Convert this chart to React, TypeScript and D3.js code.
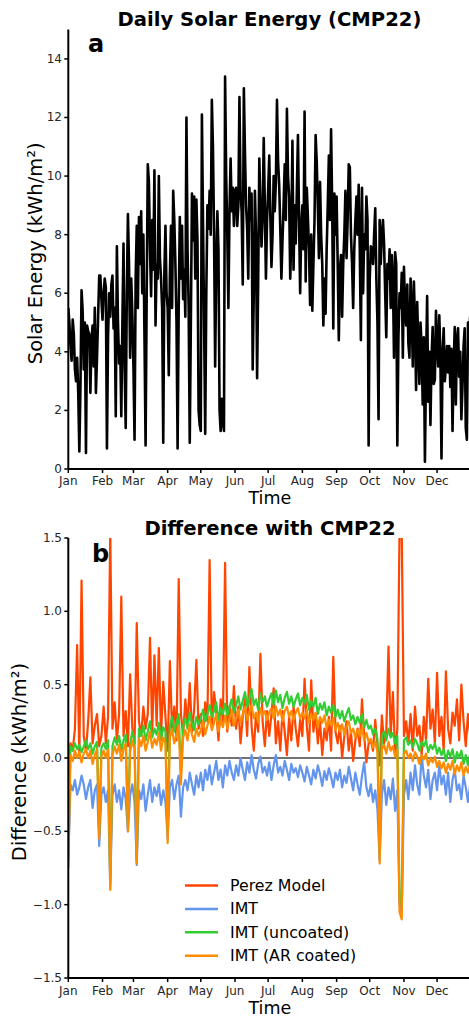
import React from 'react';
import * as d3 from 'd3';

// tick labels
const monthLabels = ['Jan', 'Feb', 'Mar', 'Apr', 'May', 'Jun', 'Jul', 'Aug', 'Sep', 'Oct', 'Nov', 'Dec'];
const energyTicks = [0, 2, 4, 6, 8, 10, 12, 14];
const diffTicks = [-1.5, -1.0, -0.5, 0.0, 0.5, 1.0, 1.5];

// daily solar energy, kWh/m2 (one value per day)
const dailyEnergy = [
  // Jan
  5.5, 5.0, 4.2, 3.7, 5.1, 4.6, 3.4, 3.0, 3.8, 2.6, 0.6, 2.8, 6.1, 5.4, 3.4, 5.0, 0.55, 4.9, 4.7, 4.6, 2.6, 4.4, 4.9, 3.5, 5.5, 2.6, 3.8, 5.2, 6.6, 6.6, 5.8,
  // Feb
  5.1, 6.0, 6.5, 6.2, 0.7, 4.5, 6.0, 5.2, 6.3, 6.6, 4.8, 5.5, 1.8, 7.6, 5.0, 3.6, 4.2, 1.8, 5.0, 7.7, 3.5, 1.4, 6.0, 8.7, 7.0, 3.8, 6.5, 5.3,
  // Mar
  3.5, 1.0, 6.5, 8.3, 5.5, 8.6, 7.0, 8.8, 6.0, 8.0, 4.5, 0.8, 6.0, 10.4, 9.8, 7.5, 5.9, 8.5, 6.8, 10.2, 4.9, 7.0, 6.5, 10.0, 7.2, 6.5, 5.5, 0.9, 6.7, 8.3, 6.0,
  // Apr
  5.5, 3.2, 6.6, 8.3, 5.5, 9.5, 8.5, 7.0, 5.0, 0.7, 5.5, 8.6, 6.5, 8.3, 5.8, 6.8, 5.2, 12.0, 7.5, 5.5, 0.9, 5.0, 9.4, 7.8, 9.3, 6.5, 9.2, 7.8, 2.0, 1.5,
  // May
  1.3, 12.1, 8.5, 5.0, 1.2, 6.0, 9.0, 8.2, 9.5, 8.0, 12.6, 11.0, 8.1, 3.5, 6.9, 8.8, 7.5, 2.0, 1.3, 2.4, 1.6, 1.3, 13.4, 10.0, 8.0, 5.5, 8.8, 10.6, 8.8, 9.6, 8.3,
  // Jun
  9.5, 9.6, 8.3, 9.0, 12.7, 9.5, 8.8, 6.3, 13.0, 10.8, 9.0, 8.2, 6.5, 9.6, 8.5, 9.4, 3.4, 6.0, 9.5, 8.0, 3.1, 6.5, 10.6, 9.0, 7.6, 8.6, 11.3, 9.0, 6.5, 8.5,
  // Jul
  9.5, 10.7, 8.6, 6.9, 8.0, 10.0, 8.8, 9.8, 12.6, 10.5, 9.7, 8.2, 6.5, 7.8, 9.0, 10.4, 8.5, 12.3, 10.0, 9.3, 6.5, 8.0, 11.2, 6.8, 9.0, 7.7, 9.5, 11.4, 8.5, 6.0, 8.3,
  // Aug
  9.0, 7.5, 12.2, 6.4, 9.6, 8.6, 7.5, 5.6, 8.0, 5.4, 7.0, 8.5, 11.4, 10.5, 9.0, 7.2, 9.8, 8.0, 7.0, 4.9, 6.5, 5.3, 7.5, 9.0, 10.7, 8.5, 11.6, 9.0, 4.8, 9.4, 8.0,
  // Sep
  9.3, 7.0, 4.4, 6.8, 7.3, 5.2, 7.0, 8.0, 9.5, 7.2, 8.5, 10.4, 10.3, 8.0, 7.0, 5.5, 7.5, 8.5, 9.3, 8.0, 9.7, 7.5, 4.4, 9.6, 6.0, 8.0, 7.5, 9.3, 8.5, 0.8,
  // Oct
  6.5, 7.6, 7.5, 7.0, 8.0, 8.9, 6.5, 5.0, 1.7, 8.5, 7.0, 8.0, 8.5, 7.7, 6.0, 4.5, 7.0, 6.5, 7.5, 5.5, 7.3, 6.5, 3.8, 7.4, 7.0, 0.8, 4.5, 6.0, 5.5, 6.7, 3.8,
  // Nov
  6.9, 5.5, 4.9, 6.3, 4.3, 3.8, 6.5, 5.5, 3.5, 6.4, 5.0, 2.7, 5.7, 4.2, 2.9, 5.0, 4.2, 2.2, 4.5, 0.25, 3.5, 5.9, 2.3, 4.0, 1.5, 3.8, 4.85, 2.9, 3.05, 5.4,
  // Dec
  4.3, 3.5, 5.25, 3.9, 0.36, 3.95, 4.8, 3.0, 3.5, 4.2, 3.3, 4.2, 2.8, 4.1, 1.3, 3.5, 4.85, 2.2, 4.4, 4.8, 3.15, 4.0, 1.7, 2.8, 4.2, 4.8, 1.4, 1.0, 5.0, 4.6, 5.2,
];

// differences with CMP22, kWh/m2 (one value every second day)
const perezDiff = [
  -0.05, 0.10, 0.05, 0.20, 0.77, 0.02, 1.21, 0.15, 0.05, 0.25, 0.55, 0.10, 0.22, 0.30, 0.08, 0.15,
  0.35, 0.10, 0.28, 1.55, 0.20, 0.38, 0.12, 0.30, 1.10, 0.15, 0.32, 0.08, 0.57, 0.20,
  0.10, 0.92, 0.25, 0.15, 0.35, 0.20, 0.30, 0.82, 0.18, 0.70, 0.22, 0.75, 0.15, 0.52, 0.28, 0.05,
  0.66, 0.20, 0.35, 0.12, 1.22, 0.30, 0.15, 0.40, 0.22, 0.51, 0.18, 0.33, 0.67, 0.20,
  0.30, 0.15, 0.38, 0.25, 1.35, 0.20, 0.45, 0.32, 0.12, 0.40, 0.25, 1.33, 0.18, 0.35, 0.22, 0.49,
  0.20, 0.35, 0.10, 0.28, 0.40, 0.15, 0.62, 0.22, 0.05, 0.30, 0.18, 0.71, 0.25, 0.08, 0.32,
  0.15, 0.30, 0.475, 0.10, 0.25, 0.05, 0.32, 0.18, 0.02, 0.28, 0.12, 0.35, 0.20, 0.08, 0.26,
  0.15, 0.54, 0.22, 0.05, 0.53, 0.18, 0.30, 0.10, 0.25, 0.02, 0.20, 0.12, 0.28, 0.05, 0.69, 0.18,
  0.10, 0.22, 0.00, 0.15, 0.25, 0.05, 0.18, -0.02, 0.12, 0.20, 0.08, 0.40, 0.15, -0.03, 0.10,
  0.12, 0.05, 0.26, 0.08, -0.05, 0.29, 0.10, 0.18, 0.76, 0.15, 0.45, 0.02, 0.20, 1.55, 1.55, 0.15,
  0.25, 0.10, 0.30, 0.05, 0.35, 0.15, 0.22, 0.02, 0.28, 0.12, 0.54, 0.20, 0.33, 0.10, 0.58,
  0.15, 0.28, 0.05, 0.59, 0.20, 0.10, 0.31, 0.22, 0.40, 0.12, 0.50, 0.25, 0.08, 0.30, 0.15,
];

const imtDiff = [
  -0.70, -0.18, -0.22, -0.15, -0.25, -0.20, -0.12, -0.18, -0.28, -0.20, -0.15, -0.34, -0.22, -0.18, -0.60, -0.25,
  -0.20, -0.30, -0.22, -0.88, -0.25, -0.18, -0.30, -0.22, -0.35, -0.20, -0.28, -0.50, -0.25, -0.18,
  -0.30, -0.73, -0.22, -0.28, -0.18, -0.36, -0.25, -0.15, -0.30, -0.20, -0.26, -0.18, -0.32, -0.22, -0.30, -0.55,
  -0.20, -0.15, -0.28, -0.18, -0.12, -0.40, -0.20, -0.15, -0.22, -0.10, -0.18, -0.25, -0.12, -0.20,
  -0.10, -0.22, -0.08, -0.15, -0.05, -0.18, -0.10, -0.02, -0.15, -0.08, -0.20, -0.05, -0.12, -0.02, -0.10, -0.15,
  -0.05, -0.12, 0.00, -0.08, -0.15, -0.03, -0.10, 0.02, -0.08, -0.14, -0.04, 0.01, -0.10, -0.06, -0.12,
  -0.03, -0.15, -0.05, 0.02, -0.10, -0.06, -0.12, -0.02, -0.08, -0.15, -0.04, -0.10, -0.07, -0.13, -0.05,
  -0.10, -0.16, -0.06, -0.12, -0.18, -0.08, -0.14, -0.05, -0.11, -0.19, -0.09, -0.15, -0.07, -0.13, -0.20, -0.10,
  -0.15, -0.08, -0.20, -0.12, -0.17, -0.06, -0.14, -0.22, -0.10, -0.18, -0.25, -0.12, -0.03, -0.20, -0.26,
  -0.18, -0.30, -0.22, -0.35, -0.70, -0.25, -0.15, -0.32, -0.20, -0.28, -0.14, -0.36, -0.22, -1.00, -1.05, -0.25,
  -0.15, -0.28, -0.10, -0.22, -0.05, -0.18, -0.25, 0.02, -0.12, -0.20, -0.08, -0.28, -0.15, -0.10, -0.22,
  -0.05, -0.18, -0.12, -0.25, -0.10, -0.30, -0.15, -0.08, -0.22, -0.18, -0.28, -0.12, -0.20, -0.30, -0.18,
];

const imtUncoatedDiff = [
  -0.60, 0.08, 0.05, 0.10, 0.06, 0.09, 0.04, 0.08, 0.12, 0.06, 0.10, 0.03, 0.08, 0.11, -0.50, 0.07,
  0.10, 0.06, 0.12, -0.85, 0.08, 0.14, 0.09, 0.15, 0.05, 0.12, 0.16, -0.45, 0.10, 0.18,
  0.12, -0.70, 0.20, 0.15, 0.22, 0.12, 0.18, 0.25, 0.14, 0.20, 0.16, 0.24, 0.12, 0.21, 0.18, -0.50,
  0.22, 0.28, 0.18, 0.24, 0.30, -0.10, 0.22, 0.27, 0.20, 0.31, 0.24, 0.19, 0.28, 0.23,
  0.27, 0.33, 0.25, 0.30, 0.36, 0.28, 0.32, 0.38, 0.26, 0.34, 0.30, 0.37, 0.29, 0.35, 0.40, 0.31,
  0.36, 0.42, 0.33, 0.39, 0.45, 0.35, 0.41, 0.47, 0.36, 0.40, 0.33, 0.44, 0.38, 0.42, 0.35,
  0.40, 0.44, 0.36, 0.46, 0.38, 0.43, 0.34, 0.41, 0.45, 0.37, 0.42, 0.35, 0.40, 0.44, 0.36,
  0.41, 0.37, 0.43, 0.33, 0.39, 0.35, 0.41, 0.30, 0.37, 0.33, 0.38, 0.29, 0.35, 0.31, 0.36, 0.28,
  0.33, 0.27, 0.32, 0.25, 0.30, 0.34, 0.26, 0.29, 0.23, 0.28, 0.24, 0.30, 0.21, 0.26, 0.20,
  0.22, 0.16, 0.20, 0.13, -0.65, 0.15, 0.18, 0.12, 0.20, 0.14, 0.17, 0.10, 0.15, -0.95, -1.00, 0.12,
  0.14, 0.09, 0.12, 0.07, 0.13, 0.10, 0.05, 0.11, 0.08, 0.12, 0.04, 0.09, 0.06, 0.10, 0.03,
  0.07, 0.02, 0.06, -0.02, 0.05, 0.01, 0.06, -0.03, 0.04, 0.00, 0.05, -0.04, 0.02, -0.05, 0.03,
];

const imtArDiff = [
  -0.75, 0.02, -0.02, 0.05, 0.00, 0.04, -0.03, 0.03, 0.06, 0.00, 0.05, -0.04, 0.02, 0.06, -0.55, 0.01,
  0.05, 0.00, 0.06, -0.90, 0.02, 0.08, 0.03, 0.09, -0.02, 0.06, 0.10, -0.50, 0.04, 0.12,
  0.06, -0.72, 0.13, 0.08, 0.15, 0.05, 0.11, 0.18, 0.07, 0.13, 0.09, 0.17, 0.05, 0.14, 0.10, -0.58,
  0.14, 0.20, 0.10, 0.16, 0.22, -0.18, 0.14, 0.19, 0.12, 0.23, 0.16, 0.11, 0.20, 0.15,
  0.19, 0.25, 0.16, 0.22, 0.28, 0.19, 0.24, 0.30, 0.18, 0.26, 0.21, 0.29, 0.20, 0.27, 0.32, 0.22,
  0.27, 0.33, 0.24, 0.30, 0.35, 0.26, 0.31, 0.36, 0.27, 0.31, 0.24, 0.34, 0.29, 0.32, 0.26,
  0.31, 0.34, 0.27, 0.35, 0.29, 0.33, 0.25, 0.32, 0.35, 0.28, 0.32, 0.26, 0.31, 0.34, 0.27,
  0.31, 0.27, 0.33, 0.24, 0.30, 0.26, 0.31, 0.21, 0.28, 0.24, 0.29, 0.20, 0.26, 0.22, 0.27, 0.19,
  0.24, 0.18, 0.23, 0.16, 0.21, 0.25, 0.17, 0.20, 0.14, 0.19, 0.15, 0.21, 0.12, 0.17, 0.11,
  0.13, 0.07, 0.11, 0.04, -0.72, 0.06, 0.09, 0.03, 0.11, 0.05, 0.08, 0.01, 0.06, -1.05, -1.10, 0.03,
  0.05, 0.00, 0.03, -0.02, 0.04, 0.01, -0.04, 0.02, -0.01, 0.03, -0.05, 0.00, -0.03, 0.01, -0.06,
  -0.02, -0.07, -0.03, -0.10, -0.04, -0.08, -0.02, -0.11, -0.05, -0.09, -0.03, -0.12, -0.06, -0.10, -0.04,
];

const seriesNames = ['Perez Model', 'IMT', 'IMT (uncoated)', 'IMT (AR coated)'];
const seriesColors = ['#FF4500', '#6495ED', '#32CD32', '#FF8C00'];

const FONT = 'DejaVu Sans, sans-serif';
const yearStart = new Date(2019, 0, 1);
const yearEnd = new Date(2020, 0, 1);

export default function App() {
  const x = d3.scaleTime().domain([yearStart, yearEnd]).range([68.3, 471.3]);
  const yTop = d3.scaleLinear().domain([0, 15]).range([469, 29.6]);
  const yBot = d3.scaleLinear().domain([-1.5, 1.5]).range([978, 538]);
  const monthTicks = d3.timeMonth.range(yearStart, yearEnd);

  const energyLine = d3
    .line<number>()
    .x((d, i) => x(d3.timeDay.offset(yearStart, i)))
    .y((d) => yTop(d));

  const diffLine = d3
    .line<number>()
    .x((d, i) => x(d3.timeDay.offset(yearStart, i * 2)))
    .y((d) => yBot(d));

  const diffSeries = [perezDiff, imtDiff, imtUncoatedDiff, imtArDiff];
  const fmtDiff = (v: number) => d3.format('.1f')(v).replace('-', '\u2212');

  const [xl, xr] = x.range();

  const xAxis = (y0: number, labelY: number, titleY: number) => (
    <g>
      <line x1={xl} x2={xr} y1={y0} y2={y0} stroke="#000" strokeWidth={2} />
      {monthTicks.map((m, i) => (
        <g key={i}>
          <line x1={x(m)} x2={x(m)} y1={y0} y2={y0 + 4} stroke="#000" strokeWidth={1.5} />
          <text x={x(m)} y={labelY} textAnchor="middle" fontSize={12} fill="#262626">
            {monthLabels[i]}
          </text>
        </g>
      ))}
      <text x={(xl + xr) / 2} y={titleY} textAnchor="middle" fontSize={17.5} fill="#000">
        Time
      </text>
    </g>
  );

  return (
    <svg
      width={469}
      height={1017}
      style={{ position: 'absolute', left: 0, top: 0, fontFamily: FONT, background: '#fff' }}
    >
      <defs>
        <clipPath id="clipTop">
          <rect x={xl} y={yTop(15)} width={xr - xl} height={yTop(0) - yTop(15)} />
        </clipPath>
        <clipPath id="clipBot">
          <rect x={xl} y={yBot(1.5)} width={xr - xl} height={yBot(-1.5) - yBot(1.5)} />
        </clipPath>
      </defs>

      {/* panel a */}
      <text x={269.5} y={26} textAnchor="middle" fontSize={19.6} fontWeight="bold">
        Daily Solar Energy (CMP22)
      </text>
      <g clipPath="url(#clipTop)">
        <path
          d={energyLine(dailyEnergy) || ''}
          fill="none"
          stroke="#000"
          strokeWidth={2.6}
          strokeLinejoin="round"
        />
      </g>
      <line x1={xl} x2={xl} y1={yTop(15)} y2={yTop(0)} stroke="#000" strokeWidth={2} />
      {energyTicks.map((t) => (
        <g key={t}>
          <line x1={xl - 4} x2={xl} y1={yTop(t)} y2={yTop(t)} stroke="#000" strokeWidth={1.5} />
          <text x={62} y={yTop(t) + 4} textAnchor="end" fontSize={12} fill="#262626">
            {t}
          </text>
        </g>
      ))}
      {xAxis(yTop(0), 485, 504)}
      <text x={88} y={52} fontSize={24} fontWeight="bold">
        a
      </text>
      <text
        transform={`translate(42,${(yTop(0) + yTop(15)) / 2 + 4}) rotate(-90)`}
        textAnchor="middle"
        fontSize={19.5}
      >
        Solar Energy (kWh/m²)
      </text>

      {/* panel b */}
      <text x={270} y={535} textAnchor="middle" fontSize={19.6} fontWeight="bold">
        Difference with CMP22
      </text>
      <line x1={xl} x2={xr} y1={yBot(0)} y2={yBot(0)} stroke="#444" strokeWidth={1.5} />
      <g clipPath="url(#clipBot)">
        {diffSeries.map((s, k) => (
          <path
            key={k}
            d={diffLine(s) || ''}
            fill="none"
            stroke={seriesColors[k]}
            strokeWidth={2.2}
            strokeLinejoin="round"
          />
        ))}
      </g>
      <line x1={xl} x2={xl} y1={yBot(1.5)} y2={yBot(-1.5)} stroke="#000" strokeWidth={2} />
      {diffTicks.map((t) => (
        <g key={t}>
          <line x1={xl - 4} x2={xl} y1={yBot(t)} y2={yBot(t)} stroke="#000" strokeWidth={1.5} />
          <text x={62} y={yBot(t) + 4} textAnchor="end" fontSize={12} fill="#262626">
            {fmtDiff(t)}
          </text>
        </g>
      ))}
      {xAxis(yBot(-1.5), 995, 1014)}
      <text x={92} y={562} fontSize={24} fontWeight="bold">
        b
      </text>
      <text
        transform={`translate(26,${(yBot(1.5) + yBot(-1.5)) / 2 + 4}) rotate(-90)`}
        textAnchor="middle"
        fontSize={19.5}
      >
        Difference (kWh/m²)
      </text>

      {/* legend */}
      {seriesNames.map((name, k) => {
        const ly = 885.5 + k * 23.4;
        return (
          <g key={name}>
            <line x1={185} x2={218} y1={ly} y2={ly} stroke={seriesColors[k]} strokeWidth={2.5} />
            <text x={230} y={ly + 5.5} fontSize={15.8} fill="#000">
              {name}
            </text>
          </g>
        );
      })}
    </svg>
  );
}
